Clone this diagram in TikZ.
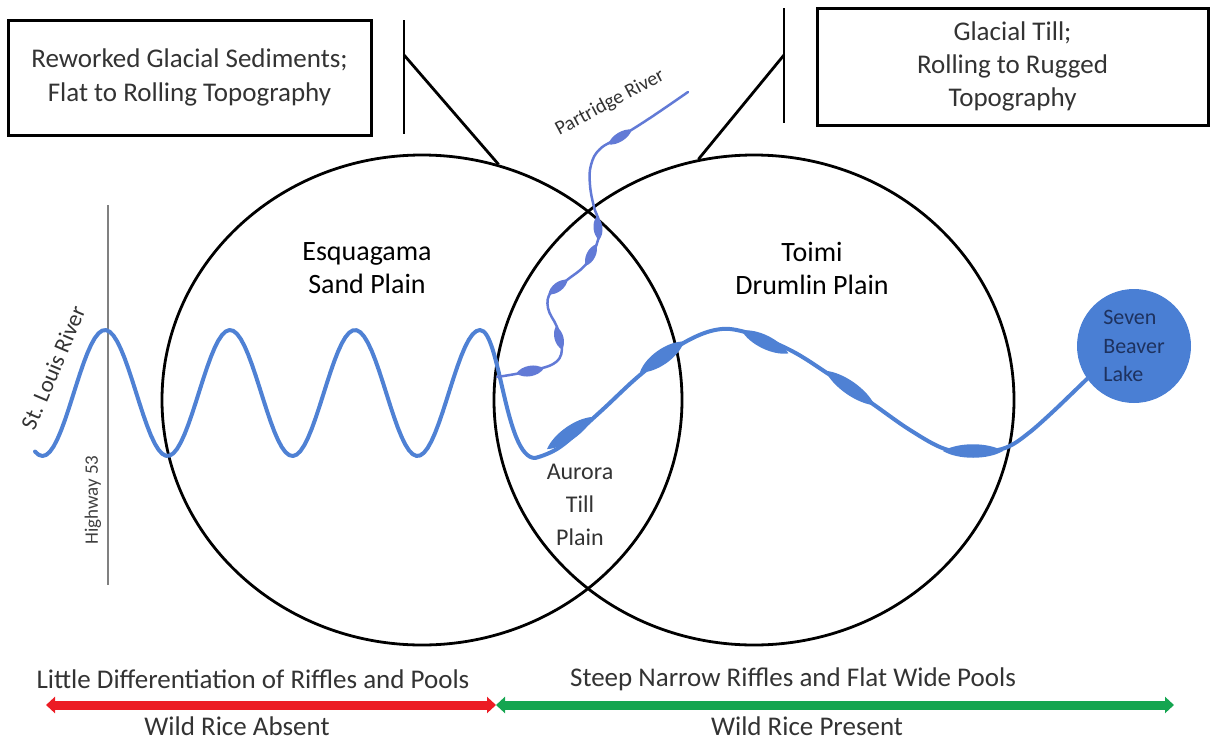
\documentclass[tikz,border=0pt]{standalone}
\usepackage{fontspec}
\setmainfont{Carlito}
\usepackage{tikz}
\usetikzlibrary{shapes.geometric, arrows.meta, positioning}

\definecolor{riverblue}{RGB}{79,129,212}
\definecolor{creekblue}{RGB}{98,122,214}
\definecolor{lakeblue}{RGB}{74,127,212}
\definecolor{laketext}{RGB}{30,50,95}
\definecolor{absentred}{RGB}{236,28,36}
\definecolor{presentgreen}{RGB}{20,165,80}

% lens shaped pool: centre, angle, half length, bulge, colour
\newcommand{\pool}[5]{\fill[#5, shift={(#1)}, rotate=#2] (-#3,0) .. controls (-#3/2,#4) and (#3/2,#4) .. (#3,0) .. controls (#3/2,-#4) and (-#3/2,-#4) .. cycle;}

\begin{document}
\begin{tikzpicture}[
        x = 1pt, y = -1pt,
        txt/.style = {font=\fontsize{27}{33}\selectfont, text=black!80, align=center, inner sep=0pt},
        infobox/.style = {txt, draw=black, line width=3pt},
        plain/.style = {ellipse, draw=black, line width=2.8pt, minimum width=520pt, minimum height=490pt, inner sep=0pt},
        bracket/.style = {draw=black, line width=2.8pt},
        river/.style = {draw=riverblue, line width=4pt, line cap=round, line join=round},
        creek/.style = {draw=creekblue, line width=2.5pt, line cap=round, line join=round},
        lake/.style = {circle, fill=lakeblue, minimum size=114pt, inner sep=0pt, align=left, text=laketext, font=\fontsize{22}{28.5}\selectfont},
        road/.style = {draw=black!50, line width=2.5pt},
        band/.style = {line width=9pt, {Triangle[length=9pt,width=16pt]}-{Triangle[length=9pt,width=16pt]}}
    ]
    \useasboundingbox (0,0) rectangle (1211,742);

    % the two plains
    \node[plain] (esq)   at (422,400) {};
    \node[plain] (toimi) at (754,400) {};
    \node[txt, font=\fontsize{28}{33}\selectfont, text=black] (esqlbl)   at (367,268) {Esquagama\\Sand Plain};
    \node[txt, font=\fontsize{28}{33}\selectfont, text=black] (toimilbl) at (812,268) {Toimi\\Drumlin Plain};
    \node[txt, font=\fontsize{24}{33}\selectfont] (aurora) at (580,505) {Aurora\\Till\\Plain};

    % callout boxes
    \node[infobox, minimum width=363pt, minimum height=115pt] (lbox) at (189.5,77.5) {Reworked Glacial Sediments;\\[1pt]Flat to Rolling Topography};
    \node[infobox, minimum width=391pt, minimum height=117pt] (rbox) at (1012.5,66.5) {Glacial Till;\\Rolling to Rugged\\Topography};

    \coordinate (ltop) at (404,20);
    \coordinate (lbot) at (404,134);
    \coordinate (ljoin) at (404,55);
    \coordinate (rtop) at (784,8);
    \coordinate (rbot) at (784,123);
    \coordinate (rjoin) at (784,55);
    \draw[bracket] (ltop) -- (lbot);
    \draw[bracket] (ljoin) -- (esq.72);
    \draw[bracket] (rtop) -- (rbot);
    \draw[bracket] (rjoin) -- (toimi.103);

    % highway
    \coordinate (hwytop) at (108,205);
    \coordinate (hwybot) at (108,585);
    \draw[road] (hwytop) -- (hwybot);
    \node[txt, font=\fontsize{19}{20}\selectfont, text=black!75, rotate=90] (hwy) at (93,500) {Highway 53};

    % lake
    \node[lake] (lake) at (1134,346) {Seven\\Beaver\\Lake};

    % St. Louis River
    \draw[river] plot[domain=35:480, samples=120] (\x, {393-63*cos(2.88*(\x-105))})
        .. controls (500,330) and (505,458) .. (535,458)
        plot[smooth, tension=0.6] coordinates {(535,458) (560,447) (600,412) (640,375) (680,345) (715,330) (745,332) (790,350) (830,375) (870,402) (910,430) (945,449) (975,452) (1005,448) (1030,432) (1060,405)}
        -- (lake.215);
    \pool{570,433}{35}{28}{9}{riverblue}
    \pool{662,357}{35}{27}{10}{riverblue}
    \pool{765,342}{-26}{26}{9}{riverblue}
    \pool{850,388}{-35}{30}{9}{riverblue}
    \pool{973,451}{0}{30}{9}{riverblue}
    \node[txt, font=\fontsize{23}{24}\selectfont, rotate=67] (stlouis) at (53,368) {St. Louis River};

    % Partridge River
    \draw[creek] plot[smooth, tension=0.7] coordinates {(497,377) (530,371) (556,362) (562,345) (557,327) (548,308) (551,292) (567,280) (587,263) (598,240) (599,222) (594,207) (590,185) (591,165) (600,149) (620,137) (650,118) (688,92)};
    \pool{530,371}{10}{14}{7}{creekblue}
    \pool{559,338}{105}{12}{6}{creekblue}
    \pool{558,287}{37}{12}{6}{creekblue}
    \pool{591,255}{64}{12}{6}{creekblue}
    \pool{598,228}{95}{12}{6}{creekblue}
    \pool{620,137}{32}{14}{6}{creekblue}
    \node[txt, font=\fontsize{20}{22}\selectfont, rotate=28] (partridge) at (610,103) {Partridge River};

    % wild rice bands
    \coordinate (b0) at (46,705);
    \coordinate (b1) at (496,705);
    \coordinate (b2) at (1174,705);
    \draw[band, absentred] (b0) -- (b1);
    \draw[band, presentgreen] (b1) -- (b2);
    \node[txt] (riffles1) at (253,679) {Little Differentiation of Riffles and Pools};
    \node[txt] (riffles2) at (793,679) {Steep Narrow Riffles and Flat Wide Pools};
    \node[txt] (absent)   at (237,726) {Wild Rice Absent};
    \node[txt] (present)  at (807,726) {Wild Rice Present};

\end{tikzpicture}
\end{document}
